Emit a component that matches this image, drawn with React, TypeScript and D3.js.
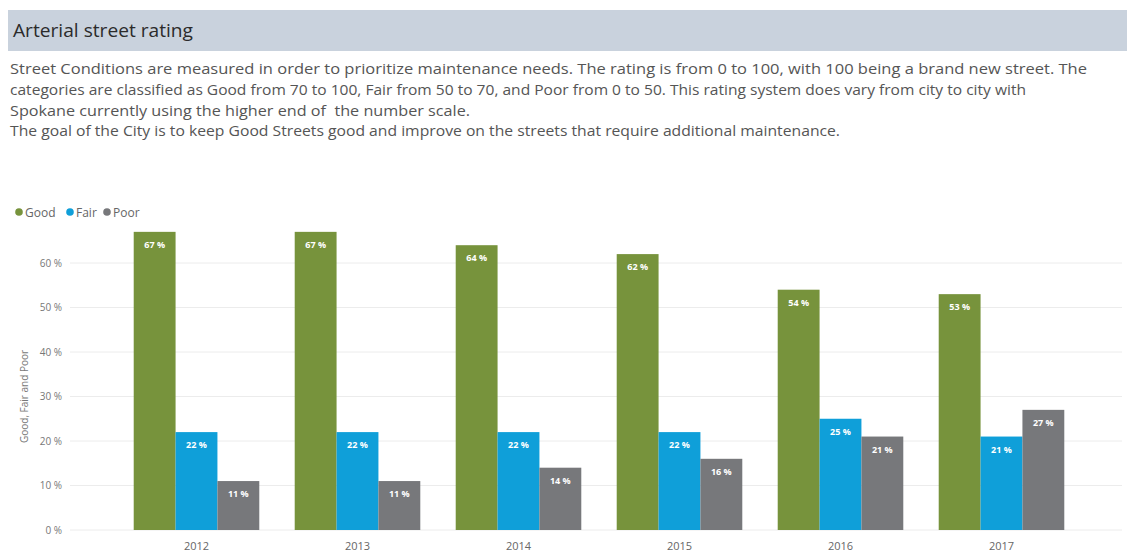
import React from "react";
import * as d3 from "d3";

const years = ["2012", "2013", "2014", "2015", "2016", "2017"];
const seriesNames = ["Good", "Fair", "Poor"];
const good = [67, 67, 64, 62, 54, 53];
const fair = [22, 22, 22, 22, 25, 21];
const poor = [11, 11, 14, 16, 21, 27];
const yTicks = [0, 10, 20, 30, 40, 50, 60];
const colors = ["#77933c", "#0f9fd9", "#77787b"];
const title = "Arterial street rating";
const paragraph = [
  "Street Conditions are measured in order to prioritize maintenance needs. The rating is from 0 to 100, with 100 being a brand new street. The",
  "categories are classified as Good from 70 to 100, Fair from 50 to 70, and Poor from 0 to 50. This rating system does vary from city to city with",
  "Spokane currently using the higher end of  the number scale.",
  "The goal of the City is to keep Good Streets good and improve on the streets that require additional maintenance.",
];
const paragraphWidths = [1077, 1016, 460, 830];
const yAxisTitle = "Good, Fair and Poor";

export default function App() {
  const W = 1127;
  const H = 555;
  const font = "'Open Sans', 'Noto Sans', sans-serif";
  const values = [good, fair, poor];
  const y = d3.scaleLinear().domain([0, 60]).range([530, 263]);
  const x0 = d3.scaleBand<string>().domain(years).range([116, 1082]).paddingInner(0.22).paddingOuter(0.11);
  const x1 = d3.scaleBand<string>().domain(seriesNames).range([0, x0.bandwidth()]);

  return (
    <svg width={W} height={H} style={{ position: "absolute", left: 0, top: 0, background: "#fff" }} fontFamily={font}>
      <rect x={8} y={10} width={W - 8} height={41} fill="#c9d2dd" />
      <text x={13} y={37} fontSize={19} fill="#2b2b2b" textLength={180} lengthAdjust="spacingAndGlyphs">{title}</text>
      {paragraph.map((line, i) => (
        <text key={i} x={10} y={74 + i * 20.8} fontSize={14} fill="#555" textLength={paragraphWidths[i]} lengthAdjust="spacingAndGlyphs" style={{ whiteSpace: "pre" }}>
          {line}
        </text>
      ))}
      {seriesNames.map((s, i) => {
        const xs = [15, 66, 103][i];
        return (
          <g key={s}>
            <circle cx={xs + 4} cy={212} r={3.8} fill={colors[i]} />
            <text x={xs + 10} y={216.5} fontSize={12} fill="#666">{s}</text>
          </g>
        );
      })}
      {yTicks.map((t) => (
        <g key={t}>
          <line x1={70} x2={1122} y1={y(t)} y2={y(t)} stroke="#ececec" strokeWidth={1} />
          <text x={62} y={y(t) + 3.5} fontSize={10} fill="#777" textAnchor="end">{`${t} %`}</text>
        </g>
      ))}
      <text transform={`translate(28, ${y(30)}) rotate(-90)`} fontSize={10} fill="#777" textAnchor="middle">{yAxisTitle}</text>
      {years.map((yr, yi) => (
        <g key={yr} transform={`translate(${x0(yr)},0)`}>
          {seriesNames.map((s, si) => {
            const v = values[si][yi];
            const bx = x1(s)!;
            const bw = x1.bandwidth();
            return (
              <g key={s}>
                <rect x={bx} y={y(v)} width={bw} height={y(0) - y(v)} fill={colors[si]} />
                <text x={bx + bw / 2} y={y(v) + 16} fontSize={9} fontWeight="bold" fill="#fff" textAnchor="middle">{`${v} %`}</text>
              </g>
            );
          })}
          <text x={x0.bandwidth() / 2} y={550} fontSize={11} fill="#666" textAnchor="middle">{yr}</text>
        </g>
      ))}
    </svg>
  );
}
